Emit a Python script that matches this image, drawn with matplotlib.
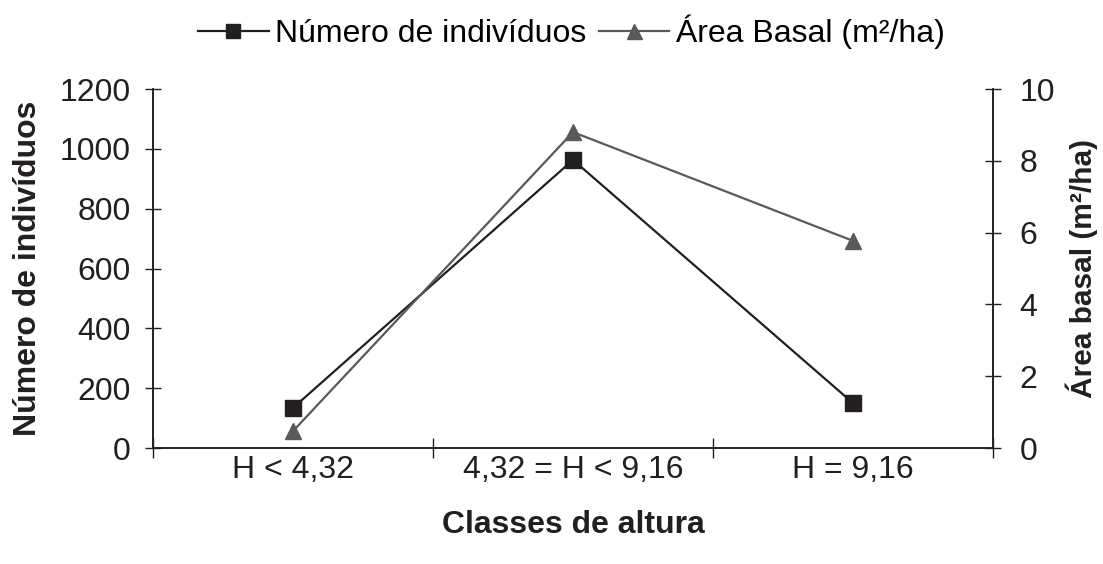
import matplotlib
matplotlib.use("Agg")
import matplotlib.pyplot as plt
from matplotlib.ticker import FixedLocator, NullFormatter

plt.rcParams['font.family'] = ['Liberation Sans', 'DejaVu Sans']

categories = ["H < 4,32", "4,32 = H < 9,16", "H = 9,16"]
n_individuos = [134, 963, 150]
area_basal = [0.47, 8.8, 5.77]
left_ticks = [0, 200, 400, 600, 800, 1000, 1200]
right_ticks = [0, 2, 4, 6, 8, 10]

black = "#231f20"
gray = "#58595b"

fig = plt.figure(figsize=(11.03, 5.64), dpi=100)
ax = fig.add_axes([153/1103, 1 - 448/564, (993-153)/1103, (448-89)/564])
ax2 = ax.twinx()

x = list(range(len(categories)))
l1, = ax.plot(x, n_individuos, color=black, lw=1.6, marker='s', ms=11,
              label="Número de indivíduos", zorder=3)
l2, = ax2.plot(x, area_basal, color=gray, lw=1.6, marker='^', ms=12,
               label="Área Basal (m²/ha)", zorder=3)

ax.set_xlim(-0.5, 2.5)
ax.set_ylim(0, 1200)
ax2.set_ylim(0, 10)
ax.set_yticks(left_ticks)
ax2.set_yticks(right_ticks)

ax.set_xticks(x)
ax.set_xticklabels(categories)
ax.tick_params(axis='x', which='major', length=0, labelsize=23, pad=5, colors=black)
ax.xaxis.set_minor_locator(FixedLocator([-0.5, 0.5, 1.5, 2.5]))
ax.xaxis.set_minor_formatter(NullFormatter())
ax.tick_params(axis='x', which='minor', direction='inout', length=14, width=1, color=black)

ax.tick_params(axis='y', direction='inout', length=12, width=1, labelsize=23, colors=black, pad=10)
ax2.tick_params(axis='y', direction='inout', length=12, width=1, labelsize=23, colors=black, pad=13)

for a in (ax, ax2):
    a.spines['top'].set_visible(False)
    for s in ('left', 'right', 'bottom'):
        a.spines[s].set_color(black)
        a.spines[s].set_linewidth(1.2)

ax.set_ylabel("Número de indivíduos", fontsize=23, fontweight='bold', color=black, labelpad=12)
ax2.set_ylabel("Área basal (m²/ha)", fontsize=21.5, fontweight='bold', color=black, labelpad=8)
ax.set_xlabel("Classes de altura", fontsize=23, fontweight='bold', color=black, labelpad=18)

fig.legend(handles=[l1, l2], loc='center', bbox_to_anchor=(0.518, 1 - 32/564), ncol=2,
           frameon=False, fontsize=23, handlelength=2.2, handletextpad=0.2,
           columnspacing=0.4, markerscale=0.9, borderpad=0)

fig.savefig("out.png", dpi=100)
